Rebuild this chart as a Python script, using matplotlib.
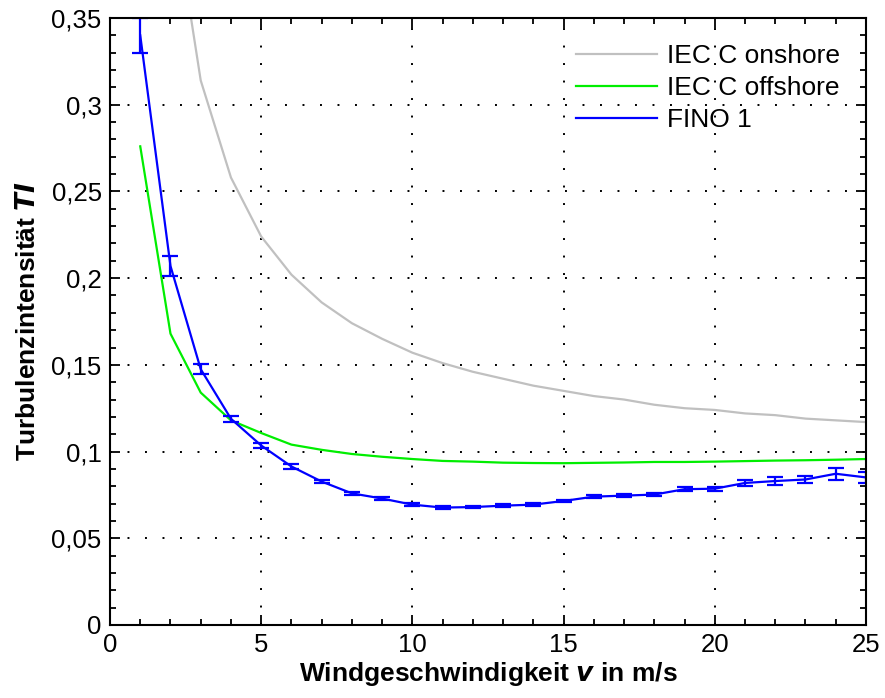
import matplotlib
matplotlib.use("Agg")
from matplotlib import pyplot as plt
from matplotlib.ticker import MultipleLocator, FuncFormatter

v_on = [2, 3, 4, 5, 6, 7, 8, 9, 10, 11, 12, 13, 14, 15, 16, 17, 18, 19, 20, 21, 22, 23, 24, 25]
ti_on = [0.426, 0.314, 0.258, 0.224, 0.202, 0.186, 0.174, 0.165, 0.157, 0.151, 0.146, 0.142,
         0.138, 0.135, 0.132, 0.130, 0.127, 0.125, 0.124, 0.122, 0.121, 0.119, 0.118, 0.117]

# IEC Klasse C, offshore
v_off = list(range(1, 26))
ti_off = [0.276, 0.168, 0.134, 0.118, 0.1107, 0.104, 0.101, 0.0986, 0.097, 0.0957, 0.0946,
          0.0942, 0.0936, 0.0934, 0.0933, 0.0935, 0.0937, 0.094, 0.094, 0.0942, 0.0945,
          0.0948, 0.095, 0.0953, 0.0957]

# FINO 1 Messung mit Fehlerbalken
v_fino = list(range(1, 26))
ti_fino = [0.34, 0.207, 0.1475, 0.1189, 0.1035, 0.0914, 0.0827, 0.0759, 0.0729, 0.0694,
           0.0677, 0.068, 0.0688, 0.0694, 0.0715, 0.074, 0.0746, 0.0752, 0.0783, 0.0786,
           0.0819, 0.083, 0.0839, 0.0872, 0.0851]
err_fino = [0.01, 0.0055, 0.003, 0.0018, 0.0016, 0.0012, 0.001, 0.0008, 0.0008, 0.0007,
            0.0007, 0.0007, 0.0007, 0.0007, 0.0008, 0.0008, 0.0008, 0.0009, 0.001, 0.0011,
            0.0017, 0.0022, 0.0022, 0.0034, 0.003]

plt.rcParams['font.family'] = ['Liberation Sans', 'DejaVu Sans']

fig = plt.figure(figsize=(8.85, 6.98), dpi=100)
ax = fig.add_axes([0.1243, 0.1046, 0.8542, 0.8696])

ax.plot(v_on, ti_on, color='#c0c0c0', lw=1.6, label='IEC C onshore')
ax.plot(v_off, ti_off, color='#00ee00', lw=1.6, label='IEC C offshore')
ax.errorbar(v_fino, ti_fino, yerr=err_fino, color='#0000ff', lw=1.6,
            elinewidth=1.6, capsize=6, capthick=1.6, label='FINO 1')

ax.set_xlim(0, 25)
ax.set_ylim(0, 0.35)
ax.xaxis.set_major_locator(MultipleLocator(5))
ax.xaxis.set_minor_locator(MultipleLocator(1))
ax.yaxis.set_major_locator(MultipleLocator(0.05))
ax.yaxis.set_minor_locator(MultipleLocator(0.01))
ax.yaxis.set_major_formatter(FuncFormatter(lambda y, _: f"{y:g}".replace('.', ',')))

ax.tick_params(which='both', direction='in', top=True, right=True, labelsize=18.5, width=1.3)
ax.tick_params(which='major', length=7, pad=6)
ax.tick_params(which='minor', length=4)
for s in ax.spines.values():
    s.set_linewidth(1.5)

ax.grid(True, which='major', color='black', linestyle=(0, (1, 8)), linewidth=1.4)

ax.set_xlabel(r'Windgeschwindigkeit $\mathbfit{v}$ in m/s', fontsize=19, fontweight='bold',
              labelpad=2)
ax.set_ylabel(r'Turbulenzintensität $\mathbfit{TI}$', fontsize=19, fontweight='bold',
              labelpad=8)

handles, labels = ax.get_legend_handles_labels()
handles[2] = plt.Line2D([], [], color='#0000ff', lw=1.6)
ax.legend(handles, labels, loc='upper right', frameon=False, fontsize=19,
          handlelength=3.1, handletextpad=0.35, borderaxespad=0.6, labelspacing=0.3)

fig.savefig('out.png', dpi=100)
